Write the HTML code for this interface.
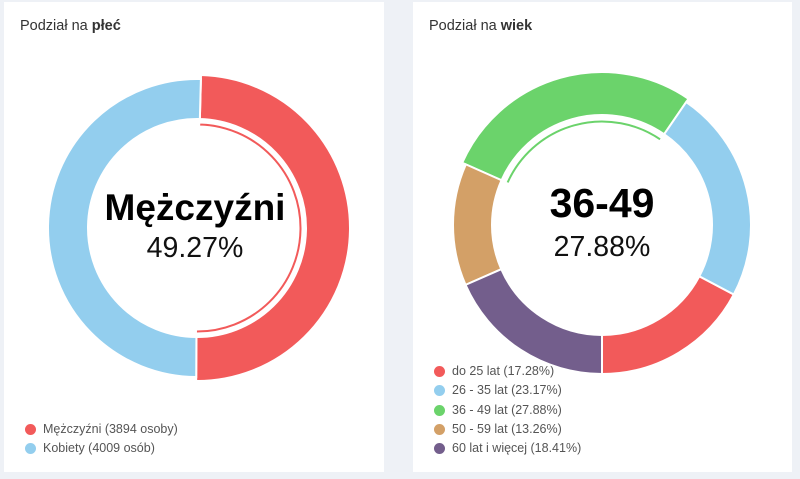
<!DOCTYPE html>
<html><head><meta charset="utf-8"><style>
html,body{margin:0;padding:0;background:#eef1f6;width:800px;height:479px;overflow:hidden;font-family:"Liberation Sans","DejaVu Sans",sans-serif}
.p{position:absolute;background:#fff;top:2px;height:470px}
.t{position:absolute;left:16px;top:16px;font-size:14.5px;color:#333}
.lg{position:absolute;font-size:12.5px;color:#555}
.lg div{height:19.3px;line-height:19px;position:relative;padding-left:18px}
.lg span{position:absolute;left:0;top:4px;width:11px;height:11px;border-radius:50%}
</style></head><body>
<div class="p" style="left:4px;width:380px"><div class="t">Podział na <b>płeć</b></div>
<div class="lg" style="left:21px;top:418px"><div><span style="background:#f25a5a"></span>Mężczyźni (3894 osoby)</div><div><span style="background:#93ceee"></span>Kobiety (4009 osób)</div></div></div>
<div class="p" style="left:413px;width:379px"><div class="t">Podział na <b>wiek</b></div>
<div class="lg" style="left:21px;top:360px"><div><span style="background:#f25a5a"></span>do 25 lat (17.28%)</div><div><span style="background:#93ceee"></span>26 - 35 lat (23.17%)</div><div><span style="background:#6bd36b"></span>36 - 49 lat (27.88%)</div><div><span style="background:#d3a067"></span>50 - 59 lat (13.26%)</div><div><span style="background:#735e8c"></span>60 lat i więcej (18.41%)</div></div></div>
<svg id="s" width="800" height="479" style="position:absolute;left:0;top:0">
<text x="195" y="220" text-anchor="middle" font-size="37" font-weight="bold" fill="#000">Mężczyźni</text>
<text x="195" y="257" text-anchor="middle" font-size="28.5" fill="#111">49.27%</text>
<text x="602" y="217" text-anchor="middle" font-size="41" font-weight="bold" fill="#000">36-49</text>
<text x="602" y="256" text-anchor="middle" font-size="28.5" fill="#111">27.88%</text>
</svg>
<script>
var s=document.getElementById('s'),NS='http://www.w3.org/2000/svg';
function pt(cx,cy,r,a){a=(a-90)*Math.PI/180;return [cx+r*Math.cos(a),cy+r*Math.sin(a)];}
function arc(cx,cy,ro,ri,a0,a1,col,sw){var l=(a1-a0)>180?1:0,p1=pt(cx,cy,ro,a0),p2=pt(cx,cy,ro,a1),p3=pt(cx,cy,ri,a1),p4=pt(cx,cy,ri,a0);
var d='M'+p1+'A'+ro+','+ro+' 0 '+l+' 1 '+p2+'L'+p3+'A'+ri+','+ri+' 0 '+l+' 0 '+p4+'Z';
var e=document.createElementNS(NS,'path');e.setAttribute('d',d);e.setAttribute('fill',col);e.setAttribute('stroke','#fff');e.setAttribute('stroke-width',sw||2);s.insertBefore(e,s.firstChild);}
// left
arc(197,228,149,109,180.3,361.5,'#93ceee');
arc(197,228,153,109,1.5,180.3,'#f25a5a');
arc(197,228,105,102,1.5,180.3,'#f25a5a',1);
// right
var c=[602,225];
arc(c[0],c[1],149,110,34.4,117.8,'#93ceee');
arc(c[0],c[1],149,110,117.8,180,'#f25a5a');
arc(c[0],c[1],149,110,180,246.3,'#735e8c');
arc(c[0],c[1],149,110,246.3,294,'#d3a067');
arc(c[0],c[1],153,110,294,394.4,'#6bd36b');
arc(c[0],c[1],105,102,294,394.4,'#6bd36b',1);
</script>
</body></html>
